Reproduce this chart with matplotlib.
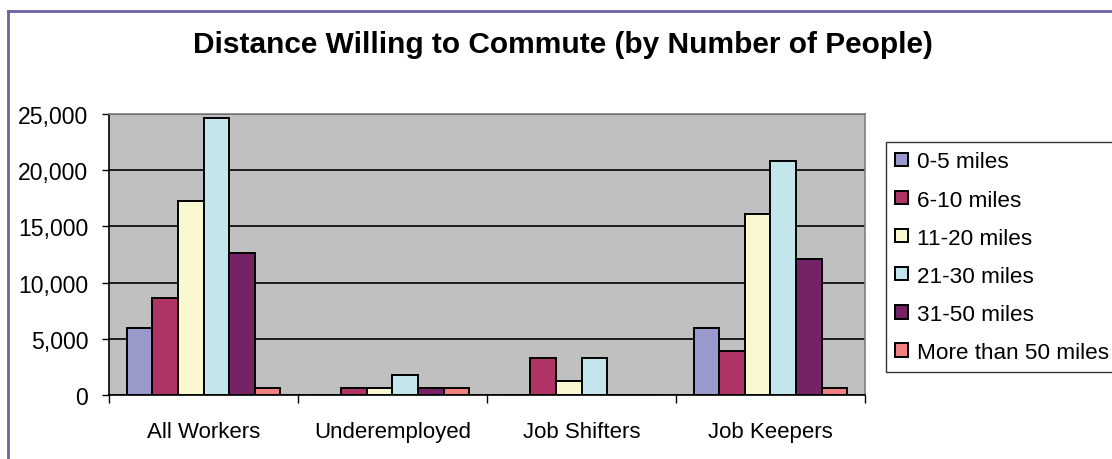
import numpy as np
import matplotlib.pyplot as plt
from matplotlib.lines import Line2D

plt.rcParams['font.family'] = ['Liberation Sans', 'DejaVu Sans']

categories = ["All Workers", "Underemployed", "Job Shifters", "Job Keepers"]
series_names = ["0-5 miles", "6-10 miles", "11-20 miles", "21-30 miles",
                "31-50 miles", "More than 50 miles"]

miles_0_5 = [5950, 0, 0, 5950]
miles_6_10 = [8600, 600, 3250, 3950]
miles_11_20 = [17300, 600, 1250, 16100]
miles_21_30 = [24650, 1800, 3250, 20800]
miles_31_50 = [12600, 600, 0, 12100]
miles_over_50 = [600, 600, 0, 600]

series_values = [miles_0_5, miles_6_10, miles_11_20, miles_21_30,
                 miles_31_50, miles_over_50]
colors = ["#9999CC", "#B03366", "#FAF8D0", "#C2E6EC", "#762266", "#F28080"]

fig = plt.figure(figsize=(11.12, 4.6), dpi=100)
ax = fig.add_axes([109 / 1112, 1 - 396 / 460, (865 - 109) / 1112, (396 - 115) / 460])
ax.set_facecolor("#C0C0C0")

x = np.arange(len(categories))
bar_w = 0.135
start = -3 * bar_w
for i, (name, vals, col) in enumerate(zip(series_names, series_values, colors)):
    ax.bar(x + start + (i + 0.5) * bar_w, vals, width=bar_w, color=col,
           edgecolor="black", linewidth=1.4, label=name, zorder=3)

ax.set_xlim(-0.5, 3.5)
ax.set_ylim(0, 25000)
ax.set_yticks(np.arange(0, 25001, 5000))
ax.set_yticklabels([f"{v:,}" for v in range(0, 25001, 5000)])
ax.yaxis.grid(True, color="black", linewidth=1.2, zorder=1)
ax.set_axisbelow(True)

ax.set_xticks(x)
ax.set_xticklabels(categories)
ax.set_xticks(np.arange(-0.5, 3.6, 1), minor=True)
ax.tick_params(axis="x", which="major", length=0, pad=19, labelsize=16)
ax.tick_params(axis="x", which="minor", length=6, width=1, direction="out")
ax.tick_params(axis="y", length=5, width=1, pad=10, labelsize=16.6, direction="out")

for side in ["top", "right"]:
    ax.spines[side].set_color("#808080")
    ax.spines[side].set_linewidth(1.2)
for side in ["left", "bottom"]:
    ax.spines[side].set_color("black")
    ax.spines[side].set_linewidth(1.2)

fig.text(0.506, 1 - 45 / 460, "Distance Willing to Commute (by Number of People)",
         ha="center", va="center", fontsize=21.5, fontweight="bold")

leg = fig.legend(loc="upper left", bbox_to_anchor=(886 / 1112, 1 - 143 / 460),
                 fontsize=16.2, frameon=True, fancybox=False, edgecolor="black",
                 handlelength=0.54, handleheight=0.54, handletextpad=0.4,
                 labelspacing=0.76, borderpad=0.42, borderaxespad=0)
leg.get_frame().set_linewidth(1.0)

# outer chart border (clipped by image edge on right/bottom)
fig.add_artist(Line2D([8 / 1112, 1.0], [1 - 12 / 460, 1 - 12 / 460],
                      transform=fig.transFigure, color="#7060A8", linewidth=2))
fig.add_artist(Line2D([8 / 1112, 8 / 1112], [0, 1 - 12 / 460],
                      transform=fig.transFigure, color="#7060A8", linewidth=2))

fig.savefig("out.png", dpi=100)
